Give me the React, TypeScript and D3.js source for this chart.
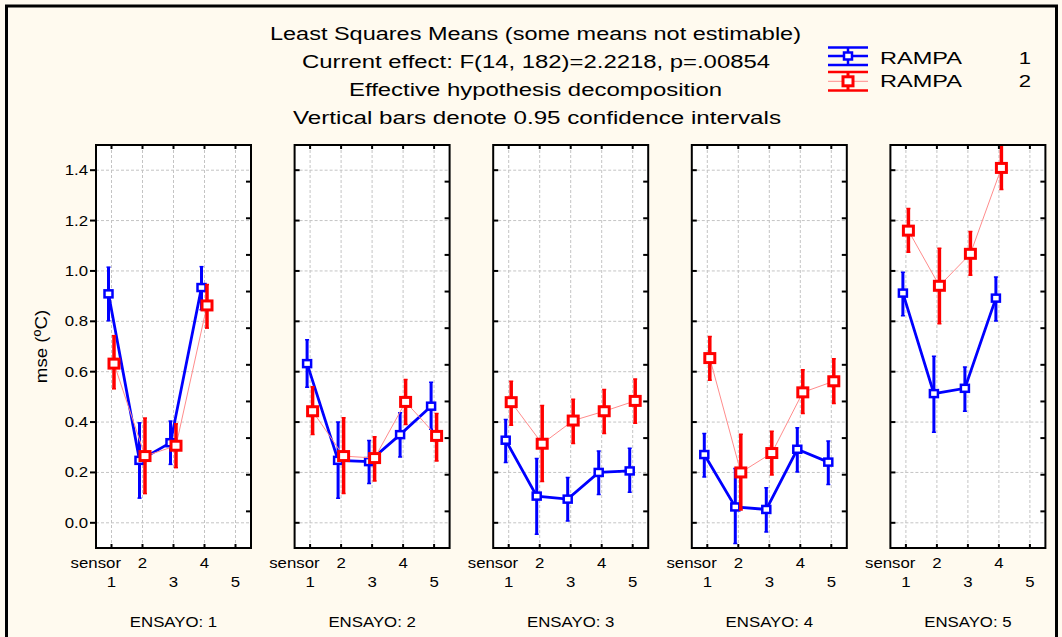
import React from "react";
import * as d3 from "d3";

const sensors = [1, 2, 3, 4, 5];
const ensayos = [1, 2, 3, 4, 5];
const yTicks = [0, 0.2, 0.4, 0.6, 0.8, 1.0, 1.2, 1.4];

const titleLines = [
  "Least Squares Means (some means not estimable)",
  "Current effect: F(14, 182)=2.2218, p=.00854",
  "Effective hypothesis decomposition",
  "Vertical bars denote 0.95 confidence intervals",
];
const seriesNames = ["RAMPA", "RAMPA"];
const seriesLevels = ["1", "2"];

// RAMPA 1 (rows: ENSAYO 1..5, cols: sensor 1..5)
const rampa1Mean = [
  [0.909, 0.248, 0.318, 0.934, null],
  [0.632, 0.248, 0.243, 0.35, 0.463],
  [0.328, 0.106, 0.094, 0.2, 0.206],
  [0.271, 0.063, 0.053, 0.292, 0.241],
  [0.912, 0.513, 0.534, 0.892, null],
];
const rampa1Low = [
  [0.802, 0.098, 0.232, 0.846, null],
  [0.538, 0.098, 0.156, 0.261, 0.371],
  [0.239, -0.045, 0.007, 0.112, 0.121],
  [0.182, -0.082, -0.036, 0.202, 0.152],
  [0.822, 0.36, 0.443, 0.801, null],
];
const rampa1High = [
  [1.015, 0.397, 0.404, 1.017, null],
  [0.727, 0.4, 0.327, 0.437, 0.558],
  [0.41, 0.255, 0.18, 0.285, 0.296],
  [0.355, 0.216, 0.139, 0.377, 0.325],
  [0.995, 0.661, 0.619, 0.976, null],
];
// RAMPA 2
const rampa2Mean = [
  [0.632, 0.265, 0.306, 0.863, null],
  [0.443, 0.265, 0.257, 0.48, 0.345],
  [0.479, 0.314, 0.406, 0.443, 0.484],
  [0.654, 0.2, 0.277, 0.518, 0.562],
  [1.16, 0.941, 1.068, 1.409, null],
];
const rampa2Low = [
  [0.532, 0.116, 0.219, 0.773, null],
  [0.351, 0.116, 0.166, 0.39, 0.245],
  [0.387, 0.164, 0.315, 0.355, 0.395],
  [0.566, 0.051, 0.19, 0.434, 0.474],
  [1.074, 0.79, 0.983, 1.323, null],
];
const rampa2High = [
  [0.743, 0.416, 0.393, 0.946, null],
  [0.54, 0.417, 0.342, 0.569, 0.434],
  [0.562, 0.466, 0.491, 0.529, 0.571],
  [0.74, 0.352, 0.364, 0.608, 0.651],
  [1.248, 1.09, 1.157, 1.51, null],
];

const FONT = "'Liberation Sans', Arial, sans-serif";
const W = 1062;
const H = 637;
const panelLeft0 = 96;
const panelStep = 198.6;
const panelW = 155;
const panelTop = 145;
const panelBottom = 548;

const BLUE = "#0000FF";
const RED = "#FF0000";
const RED_LIGHT = "#FF8C8C";

const y = d3.scaleLinear().domain([-0.1, 1.5]).range([panelBottom, panelTop]);
const rightTicks = d3.range(0, 12).map((i) => -0.1 + (i * 1.6) / 11);

function SText(props: any) {
  const { x, y: ty, sx = 1.2, size = 14, anchor = "middle", children } = props;
  return (
    <text
      transform={`translate(${x},${ty}) scale(${sx},1)`}
      fontSize={size}
      fontFamily={FONT}
      textAnchor={anchor}
      fill="#000"
    >
      {children}
    </text>
  );
}

function Series(props: any) {
  const { x, mean, low, high, color, lineColor, lineW, barW, off, mw, mh, ms } = props;
  const pts = sensors
    .map((s, i) => ({ s, m: mean[i], lo: low[i], hi: high[i] }))
    .filter((p) => p.m !== null);
  const line = d3
    .line<any>()
    .x((p) => x(p.s) + off)
    .y((p) => y(p.m));
  return (
    <g>
      <path d={line(pts) || ""} fill="none" stroke={lineColor} strokeWidth={lineW} />
      {pts.map((p) => {
        const cx = x(p.s) + off;
        return (
          <g key={p.s}>
            <line x1={cx} x2={cx} y1={y(p.lo)} y2={y(p.hi)} stroke={color} strokeWidth={barW} />
            <line x1={cx - 2} x2={cx + 2} y1={y(p.lo)} y2={y(p.lo)} stroke={color} strokeWidth={1.5} />
            <line x1={cx - 2} x2={cx + 2} y1={y(p.hi)} y2={y(p.hi)} stroke={color} strokeWidth={1.5} />
          </g>
        );
      })}
      {pts.map((p) => {
        const cx = x(p.s) + off;
        return (
          <rect
            key={"m" + p.s}
            x={cx - mw / 2}
            y={y(p.m) - mh / 2}
            width={mw}
            height={mh}
            fill="#fff"
            stroke={color}
            strokeWidth={ms}
          />
        );
      })}
    </g>
  );
}

function Panel(props: any) {
  const { idx } = props;
  const left = panelLeft0 + idx * panelStep;
  const right = left + panelW;
  const x = d3.scaleLinear().domain([0.5, 5.5]).range([left, right]);
  const clipId = `clip${idx}`;
  return (
    <g>
      <defs>
        <clipPath id={clipId}>
          <rect x={left} y={panelTop} width={panelW} height={panelBottom - panelTop} />
        </clipPath>
      </defs>
      <rect x={left} y={panelTop} width={panelW} height={panelBottom - panelTop} fill="#fff" />
      {/* grid */}
      {sensors.map((s) => (
        <line key={"gx" + s} x1={x(s)} x2={x(s)} y1={panelTop} y2={panelBottom} stroke="#c4c4c4" strokeWidth={1} strokeDasharray="3,2" />
      ))}
      {yTicks.map((t) => (
        <line key={"gy" + t} x1={left} x2={right} y1={y(t)} y2={y(t)} stroke="#c4c4c4" strokeWidth={1} strokeDasharray="3,2" />
      ))}
      {/* data */}
      <g clipPath={`url(#${clipId})`}>
        <Series
          x={x}
          mean={rampa1Mean[idx]}
          low={rampa1Low[idx]}
          high={rampa1High[idx]}
          color={BLUE}
          lineColor={BLUE}
          lineW={2.8}
          barW={3}
          off={-3}
          mw={8}
          mh={7}
          ms={2.5}
        />
        <Series
          x={x}
          mean={rampa2Mean[idx]}
          low={rampa2Low[idx]}
          high={rampa2High[idx]}
          color={RED}
          lineColor={RED_LIGHT}
          lineW={1}
          barW={3.5}
          off={2.5}
          mw={10}
          mh={9}
          ms={3}
        />
      </g>
      {/* frame */}
      <rect x={left} y={panelTop} width={panelW} height={panelBottom - panelTop} fill="none" stroke="#000" strokeWidth={2} />
      {/* x ticks top & bottom (inward) */}
      {sensors.map((s) => (
        <g key={"tx" + s}>
          <line x1={x(s)} x2={x(s)} y1={panelTop} y2={panelTop + 4} stroke="#000" strokeWidth={2} />
          <line x1={x(s)} x2={x(s)} y1={panelBottom} y2={panelBottom - 4} stroke="#000" strokeWidth={2} />
        </g>
      ))}
      {/* left ticks */}
      {yTicks.map((t) =>
        idx === 0 ? (
          <line key={"ly" + t} x1={left - 6} x2={left} y1={y(t)} y2={y(t)} stroke="#000" strokeWidth={2} />
        ) : (
          <line key={"ly" + t} x1={left} x2={left + 5} y1={y(t)} y2={y(t)} stroke="#000" strokeWidth={2} />
        )
      )}
      {/* right ticks */}
      {rightTicks.map((t, i) => (
        <line key={"ry" + i} x1={right - 5} x2={right} y1={y(t)} y2={y(t)} stroke="#000" strokeWidth={2} />
      ))}
      {/* y labels on first panel */}
      {idx === 0 &&
        yTicks.map((t) => (
          <SText key={"yl" + t} x={left - 8} y={y(t) + 5} anchor="end">
            {d3.format(".1f")(t)}
          </SText>
        ))}
      {/* x labels */}
      <SText x={x(1) + 9.5} y={568} anchor="end">
        sensor
      </SText>
      {sensors.map((s) => (
        <SText key={"xl" + s} x={x(s)} y={s % 2 === 0 ? 568 : 586.5}>
          {String(s)}
        </SText>
      ))}
      <SText x={(left + right) / 2} y={627}>
        {`ENSAYO: ${ensayos[idx]}`}
      </SText>
    </g>
  );
}

function Legend() {
  const x0 = 828;
  const x1 = 868;
  const cx = 848;
  const rows = [
    { top: 47.5, mid: 56, bot: 65, color: BLUE, midColor: BLUE, midW: 2.5, mw: 8, mh: 7, ms: 2.5, vb: 2.5 },
    { top: 72, mid: 81.3, bot: 90.5, color: RED, midColor: RED_LIGHT, midW: 1, mw: 10, mh: 9, ms: 3, vb: 3 },
  ];
  return (
    <g>
      {rows.map((r, i) => (
        <g key={i}>
          <line x1={x0} x2={x1} y1={r.top} y2={r.top} stroke={r.color} strokeWidth={2.5} />
          <line x1={x0} x2={x1} y1={r.bot} y2={r.bot} stroke={r.color} strokeWidth={2.5} />
          <line x1={x0} x2={x1} y1={r.mid} y2={r.mid} stroke={r.midColor} strokeWidth={r.midW} />
          <line x1={cx} x2={cx} y1={r.top} y2={r.bot} stroke={r.color} strokeWidth={r.vb} />
          <rect x={cx - r.mw / 2} y={r.mid - r.mh / 2} width={r.mw} height={r.mh} fill="#fff" stroke={r.color} strokeWidth={r.ms} />
          <text x={880} y={i === 0 ? 64 : 87} fontSize={17} fontFamily={FONT} textLength={82} lengthAdjust="spacingAndGlyphs">
            {seriesNames[i]}
          </text>
          <SText x={1025} y={i === 0 ? 64 : 87} size={17} sx={1.3}>
            {seriesLevels[i]}
          </SText>
        </g>
      ))}
    </g>
  );
}

export default function App() {
  const titleGeom = [
    { x: 270, w: 531, y: 40 },
    { x: 302, w: 468, y: 68 },
    { x: 349, w: 373, y: 96 },
    { x: 293, w: 488, y: 124 },
  ];
  return (
    <svg
      width={W}
      height={H}
      style={{ position: "absolute", left: 0, top: 0, display: "block" }}
      xmlns="http://www.w3.org/2000/svg"
    >
      <rect x={0} y={0} width={W} height={H} fill="#FFFAEF" />
      <rect x={6.5} y={6} width={1050} height={640} fill="none" stroke="#000" strokeWidth={3} />
      {titleLines.map((t, i) => (
        <text
          key={i}
          x={titleGeom[i].x}
          y={titleGeom[i].y}
          fontSize={17.5}
          fontFamily={FONT}
          textLength={titleGeom[i].w}
          lengthAdjust="spacingAndGlyphs"
          fill="#000"
        >
          {t}
        </text>
      ))}
      <Legend />
      <text
        transform={`translate(47,346.5) rotate(-90) scale(1.1,1)`}
        fontSize={17}
        fontFamily={FONT}
        textAnchor="middle"
      >
        mse (ºC)
      </text>
      {ensayos.map((e, i) => (
        <Panel key={e} idx={i} />
      ))}
    </svg>
  );
}
